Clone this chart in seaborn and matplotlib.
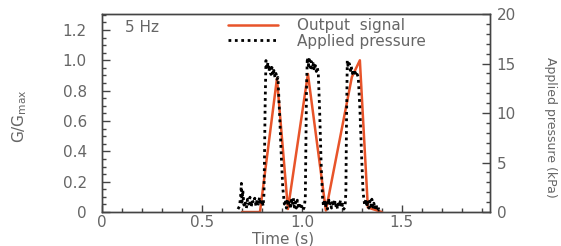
import pandas as pd
import matplotlib.pyplot as plt
import seaborn as sns
from matplotlib.ticker import MultipleLocator

# --------------------------------------
# Data
# --------------------------------------
# Output signal (normalised conductance, left axis)
signal_time = [0.70, 0.79, 0.875, 0.93, 1.03, 1.12, 1.25, 1.29, 1.33, 1.40]
signal_g = [0.0, 0.0, 0.88, 0.02, 0.91, 0.01, 0.89, 1.00, 0.03, 0.0]

# Applied pressure (kPa, right axis)
pressure_time = [
    0.680, 0.688, 0.694, 0.697, 0.700, 0.704, 0.710, 0.716, 0.722, 0.728,
    0.734, 0.740, 0.746, 0.752, 0.758, 0.764, 0.770, 0.776, 0.782, 0.788,
    0.794, 0.800, 0.806, 0.810, 0.813, 0.816,
    0.820, 0.825, 0.830, 0.835, 0.840, 0.845, 0.850, 0.855, 0.860, 0.865,
    0.870, 0.875, 0.880,
    0.888, 0.896, 0.904, 0.912,
    0.917, 0.922, 0.927, 0.932, 0.937, 0.942, 0.947, 0.952, 0.957, 0.962,
    0.967, 0.972, 0.977, 0.982, 0.987, 0.992, 0.998, 1.005, 1.012, 1.017,
    1.020, 1.023,
    1.027, 1.032, 1.037, 1.042, 1.047, 1.052, 1.057, 1.062, 1.067, 1.072,
    1.077, 1.082,
    1.089, 1.096, 1.103, 1.108,
    1.113, 1.118, 1.123, 1.128, 1.133, 1.138, 1.143, 1.148, 1.153, 1.158,
    1.163, 1.168, 1.173, 1.178, 1.183, 1.188, 1.193, 1.198, 1.204, 1.210,
    1.216, 1.220, 1.223,
    1.227, 1.232, 1.237, 1.242, 1.247, 1.252, 1.257, 1.262, 1.267, 1.272,
    1.277, 1.282,
    1.290, 1.298, 1.306, 1.314, 1.320,
    1.325, 1.330, 1.335, 1.340, 1.345, 1.350, 1.355, 1.360, 1.365, 1.370,
    1.375, 1.380, 1.385, 1.390,
]
pressure_kpa = [
    0.3, 0.6, 1.8, 2.9, 1.0, 2.2, 0.7, 1.1, 0.4, 1.3,
    0.8, 1.5, 0.5, 1.2, 0.9, 1.4, 0.6, 1.3, 0.8, 1.5,
    0.7, 1.2, 0.6, 1.8, 6.0, 11.0,
    15.3, 14.5, 15.1, 14.2, 14.8, 13.9, 14.6, 13.8, 14.3, 13.6,
    14.0, 13.4, 13.6,
    10.0, 6.0, 2.5, 0.8,
    1.2, 0.4, 1.3, 0.6, 1.1, 0.3, 1.2, 0.7, 1.4, 0.5,
    1.0, 0.4, 1.2, 0.6, 0.9, 0.3, 0.6, 0.2, 0.5, 1.5,
    7.0, 12.5,
    15.6, 14.8, 15.4, 14.6, 15.2, 14.4, 15.0, 14.3, 14.8, 14.2,
    14.6, 14.0,
    10.0, 5.0, 1.5, 0.6,
    1.3, 0.5, 1.1, 0.3, 1.4, 0.7, 1.0, 0.4, 1.2, 0.6,
    1.3, 0.5, 0.9, 0.3, 1.1, 0.6, 1.2, 0.4, 0.8, 0.3,
    0.6, 2.0, 9.0,
    15.3, 14.6, 15.0, 14.3, 14.7, 14.0, 14.4, 13.8, 14.1, 13.7,
    13.9, 13.6,
    10.5, 6.0, 2.0, 0.7, 1.3,
    0.5, 1.2, 0.4, 1.1, 0.6, 1.3, 0.5, 0.9, 0.3, 0.8,
    0.4, 0.6, 0.2, 0.3,
]

x_ticks = [0, 0.5, 1.0, 1.5]
x_tick_labels = ["0", "0.5", "1.0", "1.5"]
g_ticks = [0, 0.2, 0.4, 0.6, 0.8, 1.0, 1.2]
g_tick_labels = ["0", "0.2", "0.4", "0.6", "0.8", "1.0", "1.2"]
p_ticks = [0, 5, 10, 15, 20]

signal_df = pd.DataFrame({"Time": signal_time, "G": signal_g})
pressure_df = pd.DataFrame({"Time": pressure_time, "P": pressure_kpa})

# --------------------------------------
# Style
# --------------------------------------
sns.set_theme(style="ticks")
plt.rcParams["font.family"] = ["DejaVu Sans"]
grey = "#666666"
plt.rcParams["text.color"] = grey
plt.rcParams["axes.labelcolor"] = grey
plt.rcParams["xtick.color"] = grey
plt.rcParams["ytick.color"] = grey
fs = 11

fig = plt.figure(figsize=(5.61, 2.46), dpi=100)
ax = fig.add_axes([0.182, 0.138, 0.691, 0.805])
ax2 = ax.twinx()

sns.lineplot(data=signal_df, x="Time", y="G", ax=ax, color="#e8542a",
             linewidth=1.8, label="Output  signal", legend=False)
sns.lineplot(data=pressure_df, x="Time", y="P", ax=ax2, color="black",
             linewidth=2.0, linestyle=(0, (1, 1.3)), label="Applied pressure",
             legend=False)

ax.set_xlim(0, 1.94)
ax.set_ylim(0, 1.305)
ax2.set_ylim(0, 20)

ax.set_xticks(x_ticks)
ax.set_xticklabels(x_tick_labels)
ax.set_yticks(g_ticks)
ax.set_yticklabels(g_tick_labels)
ax2.set_yticks(p_ticks)
ax.xaxis.set_minor_locator(MultipleLocator(0.1))
ax.yaxis.set_minor_locator(MultipleLocator(0.05))
ax2.yaxis.set_minor_locator(MultipleLocator(1))

ax.tick_params(axis="both", which="both", direction="in", labelsize=fs,
               color="#444444")
ax.tick_params(axis="x", which="major", length=5, pad=2, width=1)
ax.tick_params(axis="x", which="minor", length=3, width=1)
ax.tick_params(axis="y", which="major", length=6, pad=11, width=1)
ax.tick_params(axis="y", which="minor", length=3, width=1)
ax2.tick_params(axis="y", which="both", direction="in", labelsize=fs,
                color="#444444")
ax2.tick_params(axis="y", which="major", length=6, pad=5, width=1)
ax2.tick_params(axis="y", which="minor", length=3, width=1)

for a in (ax, ax2):
    for s in a.spines.values():
        s.set_linewidth(1.0)
        s.set_color("#444444")

ax.set_xlabel("")
ax.set_ylabel("")
ax2.set_ylabel("")
fig.text(283 / 561, 1 - 239 / 246, "Time (s)", fontsize=fs,
         ha="center", va="center")
fig.text(20 / 561, 1 - 116 / 246, r"G/G$_{\mathrm{max}}$", rotation=90,
         fontsize=fs, ha="center", va="center")
fig.text(551 / 561, 1 - 127 / 246, "Applied pressure (kPa)", rotation=-90,
         fontsize=9, ha="center", va="center")

fig.text(125 / 561, 1 - 28 / 246, "5 Hz", fontsize=fs, ha="left", va="center")

h1, l1 = ax.get_legend_handles_labels()
h2, l2 = ax2.get_legend_handles_labels()
fig.legend(h1 + h2, l1 + l2, loc="upper left",
           bbox_to_anchor=(228 / 561, 1 - 18 / 246), frameon=False,
           fontsize=fs, handlelength=3.3, handletextpad=1.2,
           labelspacing=0.05, borderpad=0, borderaxespad=0)

fig.savefig("out.png", dpi=100)
